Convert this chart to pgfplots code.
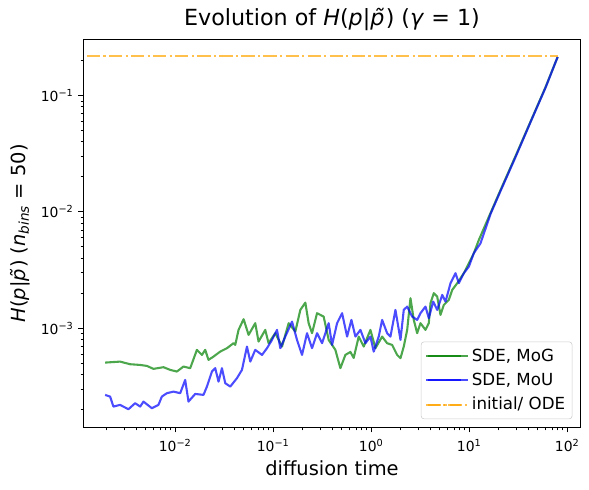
\documentclass[border=0pt]{standalone}
\usepackage{fontspec}
\setmainfont{DejaVu Sans}
\usepackage{pgfplots}
\pgfplotsset{compat=1.18}
\definecolor{mgreen}{RGB}{0,128,0}
\definecolor{mblue}{RGB}{0,0,255}
\definecolor{morange}{RGB}{255,165,0}
\begin{document}
\begin{tikzpicture}
\begin{loglogaxis}[
  scale only axis,
  width=358.1pt, height=279.5pt,
  xmin=1.156e-3, xmax=137, ymin=1.40e-4, ymax=0.305,
  axis line style={line width=0.8pt},
  tick align=outside, tick pos=left,
  major tick length=3.5pt, minor tick length=2pt,
  tick style={black, line width=0.8pt},
  minor tick style={black, line width=0.6pt},
  xtick={1e-2,1e-1,1,10,100},
  xticklabels={10\textsuperscript{−2},10\textsuperscript{−1},10\textsuperscript{0},10\textsuperscript{1},10\textsuperscript{2}},
  minor xtick={2e-3,3e-3,4e-3,5e-3,6e-3,7e-3,8e-3,9e-3,2e-2,3e-2,4e-2,5e-2,6e-2,7e-2,8e-2,9e-2,0.2,0.3,0.4,0.5,0.6,0.7,0.8,0.9,2,3,4,5,6,7,8,9,20,30,40,50,60,70,80,90},
  ytick={1e-3,1e-2,1e-1},
  yticklabels={10\textsuperscript{−3},10\textsuperscript{−2},10\textsuperscript{−1}},
  minor ytick={2e-4,3e-4,4e-4,5e-4,6e-4,7e-4,8e-4,9e-4,2e-3,3e-3,4e-3,5e-3,6e-3,7e-3,8e-3,9e-3,2e-2,3e-2,4e-2,5e-2,6e-2,7e-2,8e-2,9e-2,0.2},
  tick label style={font=\fontsize{10}{12}\selectfont},
  xticklabel style={yshift=-1.5pt},
  title={Evolution of \textit{H}(\textit{p}|\textit{\~{p}}) (\textit{γ} = 1)},
  every axis title/.style={font=\fontsize{16}{19}\selectfont, at={(axis description cs:0.5,1)}, anchor=south, inner sep=0pt, yshift=6pt},
  xlabel={diffusion time},
  xlabel style={font=\fontsize{14}{17}\selectfont, at={(axis description cs:0.5,-0.1045)}, anchor=center},
  ylabel={\textit{H}(\textit{p}|\textit{\~{p}}) (\textit{n}\textsubscript{\textit{bins}} = 50)},
  ylabel style={font=\fontsize{14}{17}\selectfont, at={(axis description cs:-0.127,0.5)}, anchor=center},
  legend style={at={(axis description cs:1,0)}, anchor=south east, xshift=-6pt, yshift=6pt,
    draw=black!20, fill=white, rounded corners=2pt, font=\fontsize{12}{14.4}\selectfont,
    inner xsep=3pt, inner ysep=3pt, row sep=3pt},
  legend cell align=left,
  legend image code/.code={\path (-1pt,0pt) -- (29pt,0pt); \draw[#1] (0pt,0pt) -- (24pt,0pt);},
  every axis plot/.append style={line width=1.5pt, line join=round},
]
\addplot[mgreen, draw opacity=0.7] coordinates {
(1.93e-3,5.06e-4) (2.74e-3,5.16e-4) (3.47e-3,4.90e-4) (4.39e-3,4.83e-4) (5.14e-3,4.74e-4)
(6.00e-3,4.47e-4) (7.60e-3,4.62e-4) (8.89e-3,4.38e-4) (1.041e-2,4.24e-4) (1.216e-2,4.68e-4)
(1.423e-2,4.53e-4) (1.666e-2,6.51e-4) (1.874e-2,5.89e-4) (2.025e-2,6.51e-4) (2.188e-2,5.34e-4)
(2.461e-2,5.70e-4) (2.88e-2,6.29e-4) (3.375e-2,6.73e-4) (3.94e-2,7.43e-4) (4.10e-2,7.18e-4)
(4.43e-2,9.67e-4) (4.99e-2,1.195e-3) (5.61e-2,8.76e-4) (6.56e-2,1.104e-3) (7.09e-2,7.67e-4)
(8.30e-2,9.67e-4) (8.97e-2,7.43e-4) (0.1050,9.06e-4) (0.1230,6.95e-4) (0.1437,1.104e-3)
(0.1682,9.35e-4) (0.1892,1.437e-3) (0.2128,1.660e-3) (0.2299,1.104e-3) (0.2490,9.06e-4)
(0.2802,1.346e-3) (0.3272,1.258e-3) (0.3681,7.93e-4) (0.4307,6.51e-4) (0.4846,4.53e-4)
(0.5450,5.89e-4) (0.6131,6.25e-4) (0.6626,5.55e-4) (0.7455,8.47e-4) (0.8384,6.95e-4)
(0.9813,9.67e-4) (1.104,6.73e-4) (1.292,8.47e-4) (1.453,7.43e-4) (1.635,7.18e-4)
(1.839,5.89e-4) (1.988,5.52e-4) (2.148,6.95e-4) (2.327,9.67e-4) (2.514,1.811e-3)
(2.717,1.179e-3) (2.943,9.06e-4) (3.181,1.104e-3) (3.578,9.67e-4) (3.867,1.104e-3)
(4.025,1.641e-3) (4.349,2.00e-3) (4.711,1.869e-3) (5.09,1.301e-3) (5.503,1.586e-3)
(6.19,1.751e-3) (6.706,2.135e-3) (7.54,2.437e-3) (8.81,2.972e-3) (9.91,3.62e-3)
(11.14,4.42e-3) (12.53,5.74e-3) (16.50,9.80e-3) (20.88,1.546e-2) (29.71,3.03e-2)
(42.28,6.00e-2) (60.17,0.1188) (79.8,0.2152)
};
\addlegendentry{SDE, MoG}
\addplot[mblue, draw opacity=0.7] coordinates {
(1.93e-3,2.67e-4) (2.17e-3,2.58e-4) (2.343e-3,2.118e-4) (2.74e-3,2.19e-4) (3.334e-3,2.01e-4)
(3.904e-3,2.265e-4) (4.39e-3,2.118e-4) (4.745e-3,2.338e-4) (5.78e-3,2.051e-4) (6.75e-3,2.19e-4)
(7.31e-3,2.58e-4) (8.23e-3,2.76e-4) (9.61e-3,2.85e-4) (1.125e-2,2.76e-4) (1.265e-2,3.59e-4)
(1.367e-2,2.338e-4) (1.601e-2,2.72e-4) (1.945e-2,2.67e-4) (2.108e-2,3.146e-4) (2.371e-2,4.24e-4)
(2.562e-2,4.53e-4) (2.769e-2,3.47e-4) (3.0e-2,4.53e-4) (3.242e-2,3.367e-4) (3.646e-2,3.146e-4)
(4.267e-2,3.716e-4) (4.80e-2,4.38e-4) (5.40e-2,6.95e-4) (5.84e-2,5.16e-4) (6.56e-2,6.51e-4)
(7.69e-2,5.89e-4) (8.645e-2,6.73e-4) (9.72e-2,7.93e-4) (0.1093,9.67e-4) (0.1182,6.73e-4)
(0.1329,8.47e-4) (0.1556,1.139e-3) (0.1750,7.93e-4) (0.1969,5.89e-4) (0.2214,9.06e-4)
(0.2490,6.73e-4) (0.2802,9.06e-4) (0.3151,7.43e-4) (0.3681,1.104e-3) (0.3987,7.18e-4)
(0.4484,1.104e-3) (0.5045,1.346e-3) (0.5674,8.47e-4) (0.6279,1.179e-3) (0.6898,8.47e-4)
(0.7758,9.67e-4) (0.8727,7.43e-4) (0.9813,8.47e-4) (1.060,6.29e-4) (1.193,8.47e-4)
(1.292,1.179e-3) (1.453,9.06e-4) (1.571,8.47e-4) (1.767,1.437e-3) (1.988,7.93e-4)
(2.148,1.437e-3) (2.327,1.534e-3) (2.617,1.258e-3) (2.943,1.179e-3) (3.181,1.346e-3)
(3.578,1.534e-3) (3.867,1.219e-3) (4.288,1.693e-3) (4.711,1.437e-3) (5.30,1.933e-3)
(5.73,1.693e-3) (6.44,2.437e-3) (7.246,2.972e-3) (7.83,2.437e-3) (8.81,2.972e-3)
(9.91,3.386e-3) (11.14,4.42e-3) (13.04,5.38e-3) (16.50,9.61e-3) (20.88,1.516e-2)
(29.71,2.97e-2) (42.28,5.94e-2) (60.17,0.1176) (79.8,0.2152)
};
\addlegendentry{SDE, MoU}
\addplot[morange, draw opacity=0.7, dash pattern=on 9.6pt off 2.4pt on 1.5pt off 2.4pt] coordinates {
(1.253e-3,0.221) (80,0.221)
};
\addlegendentry{initial/ ODE}
\coordinate (bl) at (rel axis cs:0,0);
\coordinate (tr) at (rel axis cs:1,1);
\end{loglogaxis}
\pgfresetboundingbox
\path[use as bounding box] ([shift={(-60pt,-45pt)}]bl) rectangle ([shift={(6pt,28.3pt)}]tr);
\end{tikzpicture}
\end{document}
